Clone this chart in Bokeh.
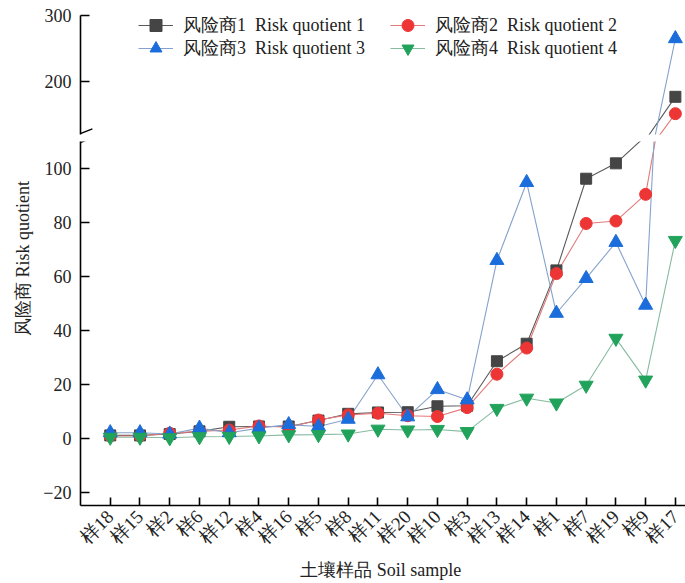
import math
from bokeh.plotting import figure
from bokeh.layouts import column, row
from bokeh.models import FixedTicker, Legend, LegendItem, Label, Arrow, Range1d
from bokeh.embed import file_html
from bokeh.resources import INLINE

# ---------------- data ----------------
samples = ["样18", "样15", "样2", "样6", "样12", "样4", "样16", "样5", "样8", "样11",
           "样20", "样10", "样3", "样13", "样14", "样1", "样7", "样19", "样9", "样17"]
x_pos = list(range(1, len(samples) + 1))

rq1 = [1.0, 1.0, 1.5, 2.5, 4.2, 4.3, 4.3, 6.5, 9.0, 9.5,
       9.6, 11.8, 12.0, 28.5, 35.0, 62.2, 96.2, 101.9, 112.0, 177.0]
rq2 = [0.8, 0.8, 1.8, 2.5, 3.0, 4.5, 4.0, 6.7, 8.6, 9.2,
       8.3, 8.0, 11.3, 23.7, 33.4, 61.0, 79.6, 80.5, 90.4, 151.5]
rq3 = [2.0, 2.0, 1.5, 3.7, 2.0, 3.7, 5.0, 4.3, 7.0, 23.5,
       7.9, 18.0, 14.2, 65.9, 94.8, 46.3, 59.2, 72.6, 49.3, 265.0]
rq4 = [0.3, 0.3, 0.1, 0.5, 0.6, 0.8, 1.2, 1.3, 1.5, 3.3,
       3.0, 3.2, 2.4, 11.0, 14.8, 13.0, 19.6, 37.0, 21.5, 73.3]

series_names = ["风险商1  Risk quotient 1", "风险商2  Risk quotient 2",
                "风险商3  Risk quotient 3", "风险商4  Risk quotient 4"]
upper_ticks = [200, 300]
lower_ticks = [-20, 0, 20, 40, 60, 80, 100]
y_label = "风险商 Risk quotient"
x_label = "土壤样品  Soil sample"

# axis break: values between LOW_TOP and UP_BOTTOM are hidden
LOW_BOTTOM, LOW_TOP = -25, 110
UP_BOTTOM, UP_TOP = 120, 300

# ---------------- style ----------------
FONT = "Liberation Serif"
TXT = "#222222"
markers = ["square", "circle", "triangle", "inverted_triangle"]
msizes = [11, 12, 14, 14]
mcolors = ["#454545", "#ee3535", "#1b6ddb", "#21a35b"]
lcolors = ["#5a5a5a", "#e27a7a", "#86a2cc", "#86bba0"]
values = [rq1, rq2, rq3, rq4]

LW = 40          # width of the strip holding the y-axis title
W = 685 - LW
xr = Range1d(0, 20.34)

up = figure(width=W, height=138, x_range=xr, y_range=Range1d(UP_BOTTOM, UP_TOP),
            output_backend="svg", toolbar_location=None, x_axis_location=None,
            min_border_left=80 - LW, min_border_right=0, min_border_top=15, min_border_bottom=4)
lo = figure(width=W, height=445, x_range=xr, y_range=Range1d(LOW_BOTTOM, LOW_TOP),
            output_backend="svg", toolbar_location=None,
            min_border_left=80 - LW, min_border_right=0, min_border_top=3, min_border_bottom=77)

for p in (up, lo):
    p.grid.visible = False
    p.outline_line_color = None
    p.background_fill_color = "white"
    p.border_fill_color = "white"
    ax = p.yaxis[0]
    ax.axis_line_width = 1.6
    ax.axis_line_color = "black"
    ax.major_tick_in = 9
    ax.major_tick_out = 0
    ax.major_tick_line_width = 1.6
    ax.minor_tick_line_color = None
    ax.major_label_text_font = FONT
    ax.major_label_text_font_size = "18px"
    ax.major_label_text_color = TXT
    ax.major_label_standoff = 9

up.yaxis[0].ticker = FixedTicker(ticks=upper_ticks)
lo.yaxis[0].ticker = FixedTicker(ticks=lower_ticks)

xa = lo.xaxis[0]
xa.ticker = FixedTicker(ticks=x_pos)
xa.major_label_overrides = {i: s for i, s in zip(x_pos, samples)}
xa.major_label_orientation = math.pi / 4
xa.major_label_text_font = FONT
xa.major_label_text_font_size = "19px"
xa.major_label_text_color = TXT
xa.major_label_standoff = 8
xa.axis_line_width = 1.6
xa.axis_line_color = "black"
xa.major_tick_in = 8
xa.major_tick_out = 0
xa.major_tick_line_width = 1.6
xa.minor_tick_line_color = None
xa.axis_label = x_label
xa.axis_label_text_font = FONT
xa.axis_label_text_font_size = "18px"
xa.axis_label_text_font_style = "normal"
xa.axis_label_text_color = TXT
xa.axis_label_standoff = 2

def visible(vals):
    # points that fall inside the break gap are not drawn
    return [float("nan") if LOW_TOP < v < UP_BOTTOM else v for v in vals]

line_up = []
for vals, lc in zip(values, lcolors):
    line_up.append(up.line(x_pos, vals, line_color=lc, line_width=1.1))
    lo.line(x_pos, vals, line_color=lc, line_width=1.1)
mark_up = []
for vals, mk, ms, mc in zip(values, markers, msizes, mcolors):
    shown = visible(vals)
    mark_up.append(up.scatter(x_pos, shown, marker=mk, size=ms, fill_color=mc, line_color=mc))
    lo.scatter(x_pos, shown, marker=mk, size=ms, fill_color=mc, line_color=mc)

def make_legend(idx, vy):
    return Legend(
        items=[LegendItem(label=series_names[i], renderers=[line_up[i], mark_up[i]]) for i in idx],
        orientation="horizontal", location=(58, vy), padding=0, margin=0, spacing=0,
        glyph_width=35, glyph_height=30, label_standoff=10, label_width=207,
        label_text_font=FONT, label_text_font_size="18px", label_text_color=TXT,
        label_text_baseline="middle",
        border_line_color=None, background_fill_alpha=0,
    )

up.add_layout(make_legend([0, 1], 94))
up.add_layout(make_legend([2, 3], 71))

# axis break marks
up.add_layout(Arrow(end=None, x_start=-0.34, y_start=115.5, x_end=0.4, y_end=128.5,
                    line_color="black", line_width=1.4))
lo.add_layout(Arrow(end=None, x_start=-0.34, y_start=108.1, x_end=0.4, y_end=111.4,
                    line_color="black", line_width=1.4))

# strip on the left with the y-axis title, centred on the whole broken axis
side = figure(width=LW, height=583, x_range=Range1d(0, LW), y_range=Range1d(0, 583),
              output_backend="svg", toolbar_location=None,
              x_axis_location=None, y_axis_location=None, min_border=0)
side.grid.visible = False
side.outline_line_color = None
side.add_layout(Label(x=22, y=583 - 258, text=y_label, angle=math.pi / 2,
                      text_align="center", text_baseline="middle",
                      text_font=FONT, text_font_size="18px", text_color=TXT))

layout = row(side, column(up, lo, spacing=0), spacing=0)
open("out.html", "w").write(file_html(layout, INLINE))
